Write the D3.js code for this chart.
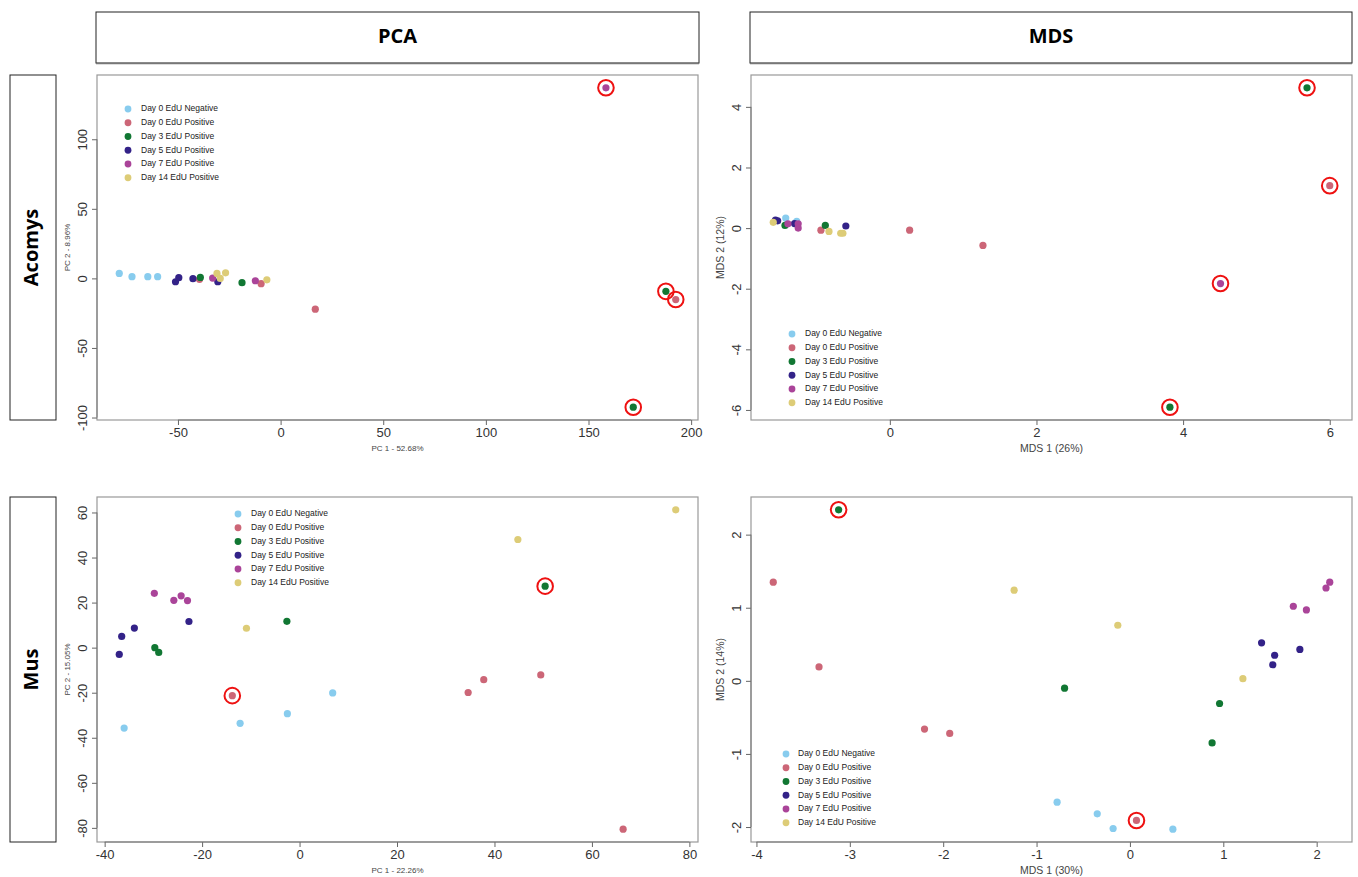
<!DOCTYPE html>
<html>
<head>
<meta charset="utf-8">
<script src="https://cdn.jsdelivr.net/npm/d3@7"></script>
<style>
  body { margin: 0; background: #fff; }
  svg { display: block; }
</style>
</head>
<body>
<div id="chart"></div>
<script>
// groups shared by all four panels
const groupNames = ["Day 0 EdU Negative", "Day 0 EdU Positive", "Day 3 EdU Positive",
    "Day 5 EdU Positive", "Day 7 EdU Positive", "Day 14 EdU Positive"];
const groupColors = ["#88CCEE", "#CC6677", "#117733", "#332288", "#AA4499", "#DDCC77"];

// [group, x, y, circled]
const acomysPCA = [
    [0, -78.6, 3.6, 0], [0, -72.4, 1.2, 0], [0, -64.7, 1.2, 0], [0, -59.9, 1.2, 0],
    [1, -39.5, -0.7, 0], [1, -9.5, -3.8, 0], [1, 16.9, -22.1, 0], [1, 192.5, -15.2, 1],
    [2, -39.1, 0.7, 0], [2, -18.8, -3.1, 0], [2, 187.7, -9.3, 1], [2, 171.8, -92.6, 1],
    [3, -51.2, -2.4, 0], [3, -49.6, 0.5, 0], [3, -42.7, -0.2, 0], [3, -30.6, -2.4, 0],
    [4, -33.1, 0.2, 0], [4, -12.3, -1.7, 0], [4, 158.5, 137, 1],
    [5, -31.0, 3.6, 0], [5, -29.4, 0, 0], [5, -26.8, 4.0, 0], [5, -6.7, -1.0, 0]
];
const acomysMDS = [
    [0, -1.42, 0.33, 0], [0, -1.27, 0.22, 0],
    [1, -0.94, -0.07, 0], [1, 0.27, -0.07, 0], [1, 1.27, -0.57, 0], [1, 6.0, 1.40, 1],
    [2, -1.43, 0.09, 0], [2, -0.88, 0.09, 0], [2, 5.69, 4.63, 1], [2, 3.82, -5.91, 1],
    [3, -1.56, 0.26, 0], [3, -1.53, 0.24, 0], [3, -1.30, 0.15, 0], [3, -0.60, 0.07, 0],
    [4, -1.39, 0.14, 0], [4, -1.25, 0.14, 0], [4, -1.25, 0.0, 0], [4, 4.51, -1.83, 1],
    [5, -1.59, 0.19, 0], [5, -0.83, -0.11, 0], [5, -0.67, -0.17, 0], [5, -0.64, -0.17, 0]
];
const musPCA = [
    [0, -36.0, -35.7, 0], [0, -12.2, -33.6, 0], [0, -2.5, -29.3, 0], [0, 6.8, -20.1, 0],
    [1, -13.8, -21.3, 1], [1, 34.6, -19.9, 0], [1, 37.8, -14.2, 0], [1, 49.5, -12.1, 0], [1, 66.4, -80.6, 0],
    [2, -29.7, 0, 0], [2, -28.9, -2.1, 0], [2, -2.6, 11.7, 0], [2, 50.4, 27.3, 1],
    [3, -37.0, -3.0, 0], [3, -36.5, 5.0, 0], [3, -33.9, 8.7, 0], [3, -22.7, 11.6, 0],
    [4, -29.8, 24.1, 0], [4, -25.8, 21.0, 0], [4, -24.3, 23.0, 0], [4, -23.0, 20.9, 0],
    [5, -10.9, 8.6, 0], [5, 44.8, 48.0, 0], [5, 77.2, 61.2, 0]
];
const musMDS = [
    [0, -0.78, -1.66, 0], [0, -0.35, -1.82, 0], [0, -0.18, -2.02, 0], [0, 0.46, -2.03, 0],
    [1, -3.82, 1.35, 0], [1, -3.33, 0.19, 0], [1, -2.20, -0.66, 0], [1, -1.93, -0.72, 0], [1, 0.07, -1.91, 1],
    [2, -3.12, 2.34, 1], [2, -0.70, -0.10, 0], [2, 0.96, -0.31, 0], [2, 0.88, -0.85, 0],
    [3, 1.41, 0.52, 0], [3, 1.55, 0.35, 0], [3, 1.53, 0.22, 0], [3, 1.82, 0.43, 0],
    [4, 1.75, 1.02, 0], [4, 1.89, 0.97, 0], [4, 2.10, 1.27, 0], [4, 2.14, 1.35, 0],
    [5, -1.24, 1.24, 0], [5, -0.13, 0.76, 0], [5, 1.21, 0.03, 0]
];

// tick labels
const acomysPCAxTicks = [-50, 0, 50, 100, 150, 200];
const acomysPCAyTicks = [-100, -50, 0, 50, 100];
const acomysMDSxTicks = [0, 2, 4, 6];
const acomysMDSyTicks = [-6, -4, -2, 0, 2, 4];
const musPCAxTicks = [-40, -20, 0, 20, 40, 60, 80];
const musPCAyTicks = [-80, -60, -40, -20, 0, 20, 40, 60];
const musMDSxTicks = [-4, -3, -2, -1, 0, 1, 2];
const musMDSyTicks = [-2, -1, 0, 1, 2];

const colTitles = ["PCA", "MDS"];
const rowTitles = ["Acomys", "Mus"];

const W = 1358, H = 877;
const svg = d3.select("#chart").append("svg")
    .attr("width", W).attr("height", H)
    .style("font-family", "'Liberation Sans', Arial, sans-serif");

// header boxes
const colBoxes = [[96, 603], [750, 602]];
colTitles.forEach((t, i) => {
    const [x, w] = colBoxes[i];
    svg.append("rect").attr("x", x).attr("y", 12).attr("width", w).attr("height", 51)
        .attr("fill", "#fff").attr("stroke", "#222").attr("stroke-width", 1);
    svg.append("line").attr("x1", x).attr("x2", x + w).attr("y1", 63.5).attr("y2", 63.5)
        .attr("stroke", "#777").attr("stroke-width", 1.5);
    svg.append("text").attr("x", x + w / 2).attr("y", 38)
        .attr("text-anchor", "middle").attr("dominant-baseline", "middle")
        .style("font-family", "'Open Sans', sans-serif").style("font-weight", "bold")
        .style("font-size", "20px").text(t);
});

// row boxes
const rowBoxes = [[75, 345], [497, 345]];
rowTitles.forEach((t, i) => {
    const [y, h] = rowBoxes[i];
    svg.append("rect").attr("x", 10).attr("y", y).attr("width", 46).attr("height", h)
        .attr("fill", "#fff").attr("stroke", "#222").attr("stroke-width", 1);
    svg.append("text")
        .attr("transform", `translate(33,${y + h / 2}) rotate(-90)`)
        .attr("text-anchor", "middle").attr("dominant-baseline", "middle")
        .style("font-family", "'Open Sans', sans-serif").style("font-weight", "bold")
        .style("font-size", "20px").text(t);
});

const panels = [
    {data: acomysPCA, xt: acomysPCAxTicks, yt: acomysPCAyTicks, left: 97, right: 698, top: 75, bottom: 420,
        xTitle: "PC 1 - 52.68%", yTitle: "PC 2 - 8.96%", titleSize: 8, yTitleX: 68, leg: [128, 109, 141]},
    {data: acomysMDS, xt: acomysMDSxTicks, yt: acomysMDSyTicks, left: 751, right: 1352, top: 75, bottom: 420,
        xTitle: "MDS 1 (26%)", yTitle: "MDS 2 (12%)", titleSize: 10.5, yTitleX: 721, leg: [792, 334, 805]},
    {data: musPCA, xt: musPCAxTicks, yt: musPCAyTicks, left: 97, right: 698, top: 497, bottom: 842,
        xTitle: "PC 1 - 22.26%", yTitle: "PC 2 - 15.05%", titleSize: 8, yTitleX: 68, leg: [238, 514, 251]},
    {data: musMDS, xt: musMDSxTicks, yt: musMDSyTicks, left: 751, right: 1352, top: 497, bottom: 842,
        xTitle: "MDS 1 (30%)", yTitle: "MDS 2 (14%)", titleSize: 10.5, yTitleX: 721, leg: [786, 754, 798]}
];

// R style range: data extent padded 4% each side
const padded = vals => {
    const [a, b] = d3.extent(vals);
    const p = (b - a) * 0.04;
    return [a - p, b + p];
};

panels.forEach(p => {
    const x = d3.scaleLinear().domain(padded(p.data.map(d => d[1]))).range([p.left, p.right]);
    const y = d3.scaleLinear().domain(padded(p.data.map(d => d[2]))).range([p.bottom, p.top]);
    const g = svg.append("g");

    g.append("rect").attr("x", p.left).attr("y", p.top)
        .attr("width", p.right - p.left).attr("height", p.bottom - p.top)
        .attr("fill", "none").attr("stroke", "#999").attr("stroke-width", 1.2);

    const xAxis = g.append("g").attr("transform", `translate(0,${p.bottom})`)
        .call(d3.axisBottom(x).tickValues(p.xt).tickSize(5).tickPadding(3).tickFormat(d => String(d)));
    const yAxis = g.append("g").attr("transform", `translate(${p.left},0)`)
        .call(d3.axisLeft(y).tickValues(p.yt).tickSize(5).tickFormat(d => String(d)));

    [xAxis, yAxis].forEach(a => {
        a.select(".domain").remove();
        a.selectAll("line").attr("stroke", "#666");
        a.selectAll("text").attr("fill", "#333").style("font-size", "13px")
            .style("font-family", "'Liberation Sans', Arial, sans-serif");
    });
    yAxis.selectAll("text")
        .attr("x", null).attr("dy", null)
        .attr("text-anchor", "middle")
        .attr("transform", "translate(-10.5,0) rotate(-90)");

    // axis line from first to last tick
    g.append("line").attr("x1", x(p.xt[0])).attr("x2", x(p.xt[p.xt.length - 1]))
        .attr("y1", p.bottom).attr("y2", p.bottom).attr("stroke", "#777");
    g.append("line").attr("y1", y(p.yt[0])).attr("y2", y(p.yt[p.yt.length - 1]))
        .attr("x1", p.left).attr("x2", p.left).attr("stroke", "#777");

    // axis titles
    g.append("text").attr("x", (p.left + p.right) / 2).attr("y", p.bottom + 29)
        .attr("text-anchor", "middle").attr("dominant-baseline", "middle")
        .attr("fill", "#444").style("font-size", p.titleSize + "px").text(p.xTitle);
    g.append("text")
        .attr("transform", `translate(${p.yTitleX},${(p.top + p.bottom) / 2}) rotate(-90)`)
        .attr("text-anchor", "middle").attr("dominant-baseline", "middle")
        .attr("fill", "#444").style("font-size", p.titleSize + "px").text(p.yTitle);

    // points
    g.append("g").selectAll("circle")
        .data(p.data)
        .join("circle")
        .attr("cx", d => x(d[1]))
        .attr("cy", d => y(d[2]))
        .attr("r", 3.6)
        .attr("fill", d => groupColors[d[0]]);

    // red rings round the flagged samples
    g.append("g").selectAll("circle")
        .data(p.data.filter(d => d[3]))
        .join("circle")
        .attr("cx", d => x(d[1]))
        .attr("cy", d => y(d[2]))
        .attr("r", 7.8)
        .attr("fill", "none")
        .attr("stroke", "#ee1111")
        .attr("stroke-width", 2);

    // legend
    const [lx, ly, tx] = p.leg;
    const leg = g.append("g").selectAll("g")
        .data(groupNames)
        .join("g")
        .attr("transform", (d, i) => `translate(0,${ly + i * 13.75})`);
    leg.append("circle").attr("cx", lx).attr("cy", 0).attr("r", 3.4)
        .attr("fill", (d, i) => groupColors[i]);
    leg.append("text").attr("x", tx).attr("y", 0).attr("dominant-baseline", "middle")
        .attr("fill", "#222").style("font-size", "8.5px").text(d => d);
});
</script>
</body>
</html>
